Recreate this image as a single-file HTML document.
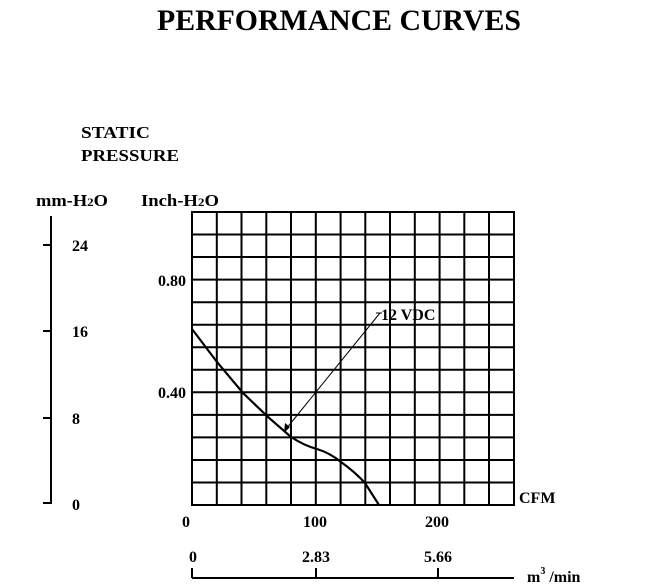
<!DOCTYPE html>
<html><head><meta charset="utf-8"><style>html,body{margin:0;padding:0;background:#fff}svg{display:block}</style></head>
<body>
<svg width="646" height="588" viewBox="0 0 646 588" xmlns="http://www.w3.org/2000/svg" font-family="Liberation Serif, serif" font-weight="bold" fill="#000">
<text x="157" y="30" font-size="30" textLength="364" lengthAdjust="spacingAndGlyphs">PERFORMANCE  CURVES</text>
<text x="81" y="138" font-size="17" textLength="69" lengthAdjust="spacingAndGlyphs">STATIC</text>
<text x="81" y="161" font-size="17" textLength="98" lengthAdjust="spacingAndGlyphs">PRESSURE</text>
<text x="36" y="206" font-size="17" textLength="72" lengthAdjust="spacingAndGlyphs">mm-H<tspan font-size="12">2</tspan>O</text>
<text x="141" y="206" font-size="17" textLength="78" lengthAdjust="spacingAndGlyphs">Inch-H<tspan font-size="12">2</tspan>O</text>
<g stroke="#000" stroke-width="2" fill="none">
<line x1="51" y1="216" x2="51" y2="504"/>
<line x1="43" y1="245" x2="51" y2="245"/>
<line x1="43" y1="331" x2="51" y2="331"/>
<line x1="43" y1="418" x2="51" y2="418"/>
<line x1="43" y1="503" x2="51" y2="503"/>
<line x1="192" y1="578" x2="514" y2="578"/>
<line x1="192" y1="568" x2="192" y2="578"/>
<line x1="316" y1="568" x2="316" y2="578"/>
<line x1="438" y1="568" x2="438" y2="578"/>
</g>
<g font-size="16">
<text x="72" y="251">24</text><text x="72" y="337">16</text><text x="72" y="424">8</text><text x="72" y="510">0</text>
<text x="158" y="286">0.80</text><text x="158" y="398">0.40</text>
<text x="519" y="503">CFM</text>
<text x="182" y="527">0</text><text x="303" y="527">100</text><text x="425" y="527">200</text>
<text x="189" y="562">0</text><text x="302" y="562">2.83</text><text x="424" y="562">5.66</text>
<text x="527" y="582">m<tspan font-size="10" dy="-8">3</tspan><tspan dy="8"> /min</tspan></text>
</g>
<g stroke="#000" stroke-width="2" fill="none">
<rect x="192" y="212" width="322" height="293"/>
<path d="M216.8 212V505M241.5 212V505M266.3 212V505M291 212V505M315.8 212V505M340.6 212V505M365.3 212V505M390 212V505M414.8 212V505M439.6 212V505M464.3 212V505M489 212V505"/>
<path d="M192 234.5H514M192 257H514M192 279.6H514M192 302.2H514M192 324.7H514M192 347.2H514M192 369.8H514M192 392.3H514M192 414.9H514M192 437.4H514M192 460H514M192 482.5H514"/>
<path d="M192 329 L217 362 L243 393 L268 417 L291 437 Q305 446 317 449 Q330 453 341 462 Q355 472 365 483 L379 505" stroke-width="2.2"/>
</g>
<line x1="380" y1="313" x2="286" y2="429" stroke="#000" stroke-width="1"/>
<path d="M284 433 L285 423 L290 427 Z" fill="#000"/>
<line x1="376" y1="313" x2="382" y2="313" stroke="#000" stroke-width="1"/>
<text x="381" y="320" font-size="16">12 VDC</text>
</svg>
</body></html>
